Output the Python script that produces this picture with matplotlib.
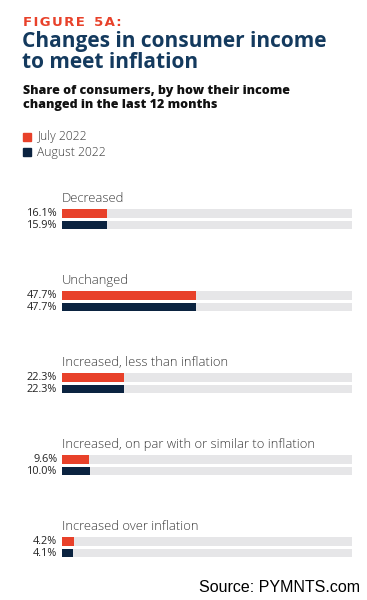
import matplotlib
matplotlib.use("Agg")
from matplotlib import pyplot as plt
from matplotlib.patches import Rectangle

categories = ['Decreased', 'Unchanged', 'Increased, less than inflation',
              'Increased, on par with or similar to inflation', 'Increased over inflation']
july = [16.1, 47.7, 22.3, 9.6, 4.2]
august = [15.9, 47.7, 22.3, 10.0, 4.1]
series_names = ['July 2022', 'August 2022']

RED = '#E8412A'
NAVY = '#0B2340'
TRACK = '#E6E6E8'
FONT = 'Open Sans'

fig = plt.figure(figsize=(3.67, 6.0), dpi=100)

def fy(px):
    return 1 - px / 600.0

def fx(px):
    return px / 367.0

# header (letter-spaced)
fig_label = '\u200a'.join('FIGURE') + '  ' + '\u200a'.join('5A:')
fig.text(fx(23), fy(22), fig_label, color=RED, fontsize=9.5, fontweight='bold',
         family=['DejaVu Sans'], va='center', ha='left')
fig.text(fx(22), fy(42), 'Changes in consumer income', color='#143A5E', fontsize=15,
         fontweight='bold', family=FONT, va='center', ha='left')
fig.text(fx(22), fy(63), 'to meet inflation', color='#143A5E', fontsize=15,
         fontweight='bold', family=FONT, va='center', ha='left')
fig.text(fx(23), fy(91), 'Share of consumers, by how their income', color='#111111',
         fontsize=9.0, fontweight='heavy', family=FONT, va='center', ha='left')
fig.text(fx(23), fy(105), 'changed in the last 12 months', color='#111111',
         fontsize=9.0, fontweight='heavy', family=FONT, va='center', ha='left')

# legend
for i, (name, col) in enumerate(zip(series_names, [RED, NAVY])):
    y = 137 + i * 15.5
    fig.patches.append(Rectangle((fx(23), fy(y + 4)), fx(8), 8 / 600.0, color=col,
                                 transform=fig.transFigure))
    fig.text(fx(37), fy(y), name, color='#3a3a3a', fontsize=8.7, family=FONT,
             fontweight='light', va='center', ha='left')

# bars
ax = fig.add_axes([fx(62), fy(570), fx(352 - 62), 385 / 600.0])
ax.set_xlim(0, 103.5)
ax.set_ylim(4.277, -0.418)
ax.axis('off')

h = 0.105
off = 0.07
for i, cat in enumerate(categories):
    ax.barh(i - off, 103.5, height=h, color=TRACK, left=0)
    ax.barh(i + off, 103.5, height=h, color=TRACK, left=0)
    ax.barh(i - off, july[i], height=h, color=RED)
    ax.barh(i + off, august[i], height=h, color=NAVY)
    ax.text(0, i - 0.255, cat, fontsize=9.4, color='#3a3a3a', family=FONT,
            fontweight='light', va='center', ha='left')
    ax.text(-1.7, i - off, f'{july[i]:.1f}%', fontsize=7.8, color='#222222',
            family=FONT, va='center', ha='right')
    ax.text(-1.7, i + off, f'{august[i]:.1f}%', fontsize=7.8, color='#222222',
            family=FONT, va='center', ha='right')

fig.text(fx(360), fy(587), 'Source: PYMNTS.com', color='black', fontsize=11.5,
         family='Liberation Sans', va='center', ha='right')

fig.savefig('out.png', dpi=100)
